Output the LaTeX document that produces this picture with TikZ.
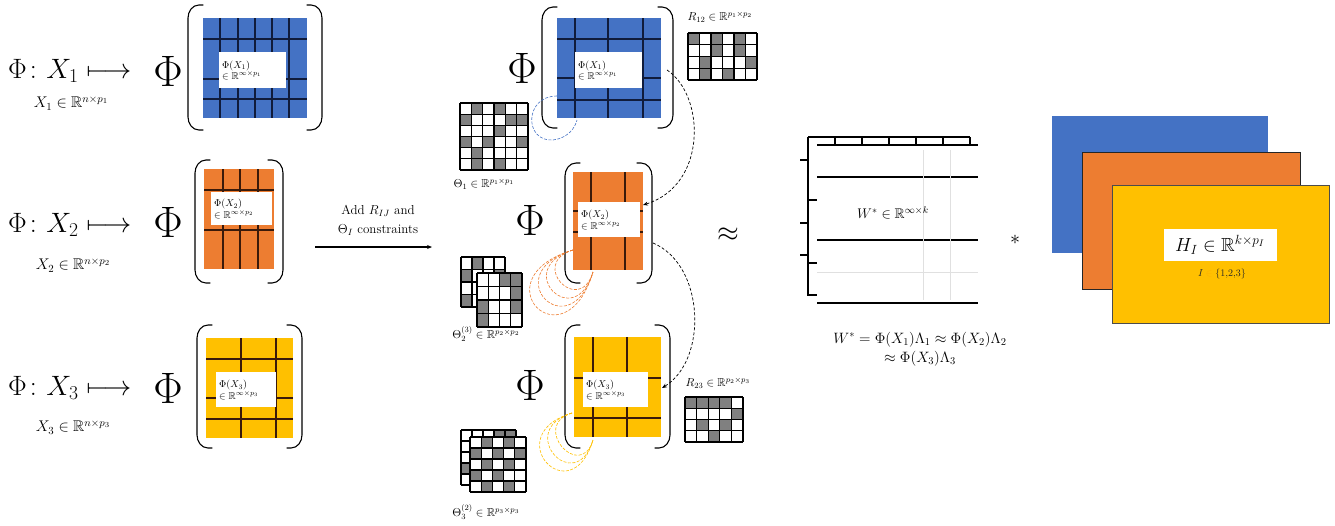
\RequirePackage{fix-cm}
\documentclass[tikz,border=0pt]{standalone}
\usepackage{amsmath,amssymb}
\usetikzlibrary{arrows.meta,calc}
\definecolor{cblue}{HTML}{4472C4}
\definecolor{corange}{HTML}{ED7D31}
\definecolor{cyellow}{HTML}{FFC000}
\definecolor{cgray}{HTML}{808080}
\definecolor{navy}{HTML}{101C3C}
\definecolor{dbrown}{HTML}{3A1A0A}
\tikzset{
  brk/.style={line width=1.1pt, black, line cap=round},
  gb/.style={line width=1.3pt, navy},
  gbr/.style={line width=1.3pt, dbrown},
  cellgl/.style={line width=1.1pt, black},
  mat/.style={anchor=north west, inner sep=0pt, draw=none},
  wb/.style={anchor=north west, inner sep=0pt, fill=white, draw=none},
  intxt/.style={anchor=west, align=left, font=\fontsize{10}{11.5}\selectfont, inner sep=0pt},
  rowtxt/.style={anchor=west, inner sep=0pt, font=\fontsize{28}{30}\selectfont},
  subtxt/.style={inner sep=0pt, font=\fontsize{15.5}{17}\selectfont},
  bigphi/.style={inner sep=0pt, font=\fontsize{44}{48}\selectfont},
  lab/.style={inner sep=0pt, font=\fontsize{11.5}{13}\selectfont},
  dasharrow/.style={dashed, dash pattern=on 3pt off 2pt, line width=0.7pt, -{Stealth[length=5pt,width=4pt]}},
  loop/.style={dash pattern=on 3pt off 1.5pt, line width=0.6pt},
}
\newcommand{\mybrk}[4]{%
  \draw[brk] ({#1+15},#2) -- ({#1+11},#2) to[out=180,in=90] (#1,{#2+13}) -- (#1,{#4-13}) to[out=-90,in=180] ({#1+11},#4) -- ({#1+15},#4);
  \draw[brk] ({#3-15},#2) -- ({#3-11},#2) to[out=0,in=90] (#3,{#2+13}) -- (#3,{#4-13}) to[out=-90,in=0] ({#3-11},#4) -- ({#3-15},#4);
}
\newcommand{\cmat}[7]{%
  \fill[white] (#1,#2) rectangle ++({#3*#5},{#4*#6});
  \foreach \cc/\rr in {#7}{\fill[cgray] ({#1+\cc*#5},{#2+\rr*#6}) rectangle ++(#5,#6);}
  \foreach \ii in {0,...,#3}{\draw[cellgl] ({#1+\ii*#5},#2) -- ++(0,{#4*#6});}
  \foreach \jj in {0,...,#4}{\draw[cellgl] (#1,{#2+\jj*#6}) -- ++({#3*#5},0);}
}
\begin{document}
\begin{tikzpicture}[x=1pt,y=-1pt]
\useasboundingbox (0,0) rectangle (1335,525);

% ---------------- left column ----------------
\node[rowtxt] (t1) at (8,71) {$\Phi\colon X_1 \longmapsto$};
\node[subtxt] (s1) at (71,103) {$X_1\in\mathbb{R}^{n\times p_1}$};
\node[bigphi] (P1) at (168,71) {$\Phi$};

\node[rowtxt] (t2) at (8,225) {$\Phi\colon X_2 \longmapsto$};
\node[subtxt] (s2) at (73,265) {$X_2\in\mathbb{R}^{n\times p_2}$};
\node[bigphi] (P2) at (168,222) {$\Phi$};

\node[rowtxt] (t3) at (8,388) {$\Phi\colon X_3 \longmapsto$};
\node[subtxt] (s3) at (73,427) {$X_3\in\mathbb{R}^{n\times p_3}$};
\node[bigphi] (P3) at (168,388) {$\Phi$};

% L1 blue
\node[mat, fill=cblue, minimum width=104pt, minimum height=100pt] (L1) at (203,18) {};
\foreach \x in {220,238,255,272,289} \draw[gb] (\x,18) -- (\x,118);
\foreach \y in {39,79,99} \draw[gb] (203,\y) -- (307,\y);
\node[wb, minimum width=67pt, minimum height=36pt] (L1w) at (219,52) {};
\node[intxt] at ($(L1w.west)+(3,0)$) {$\Phi(X_1)$\\$\in\mathbb{R}^{\infty\times p_1}$};
\mybrk{188}{5}{322}{130}

% L2 orange
\node[mat, fill=corange, minimum width=70pt, minimum height=100pt] (L2) at (204,169) {};
\foreach \x in {223,240,258} \draw[gbr] (\x,169) -- (\x,269);
\foreach \y in {190,230} \draw[gbr] (204,\y) -- (274,\y);
\node[wb, minimum width=61pt, minimum height=33pt] (L2w) at (211,192) {};
\node[intxt] at ($(L2w.west)+(3,0)$) {$\Phi(X_2)$\\$\in\mathbb{R}^{\infty\times p_2}$};
\mybrk{195}{160}{283}{283}

% L3 yellow
\node[mat, fill=cyellow, minimum width=87pt, minimum height=100pt] (L3) at (206,338) {};
\foreach \x in {241,276} \draw[gbr] (\x,338) -- (\x,438);
\foreach \y in {359,398,419} \draw[gbr] (206,\y) -- (293,\y);
\node[wb, minimum width=60pt, minimum height=35pt] (L3w) at (216,372) {};
\node[intxt] at ($(L3w.west)+(3,0)$) {$\Phi(X_3)$\\$\in\mathbb{R}^{\infty\times p_3}$};
\mybrk{197}{325}{302}{448}

% arrow with constraints
\coordinate (a0) at (315,247);
\coordinate (a1) at (432,247);
\draw[line width=1.2pt, -{Stealth[length=5pt,width=4pt]}] (a0) -- (a1);
\node[align=center, inner sep=0pt, font=\fontsize{13}{19}\selectfont] (addtxt) at (378,220) {Add $R_{IJ}$ and\\$\Theta_I$ constraints};

% ---------------- middle column ----------------
\node[bigphi] (Q1) at (522,68) {$\Phi$};
\node[bigphi] (Q2) at (530,220) {$\Phi$};
\node[bigphi] (Q3) at (530,385) {$\Phi$};

% M1 blue
\node[mat, fill=cblue, minimum width=104pt, minimum height=100pt] (M1) at (557,18) {};
\foreach \x in {575,608,643} \draw[gb] (\x,18) -- (\x,118);
\foreach \y in {39,78,100} \draw[gb] (557,\y) -- (661,\y);
\node[wb, minimum width=67pt, minimum height=36pt] (M1w) at (575,52) {};
\node[intxt] at ($(M1w.west)+(3,0)$) {$\Phi(X_1)$\\$\in\mathbb{R}^{\infty\times p_1}$};
\mybrk{542}{7}{673}{128}

% M2 orange
\node[mat, fill=corange, minimum width=70pt, minimum height=98pt] (M2) at (573,172) {};
\foreach \x in {591,625} \draw[gbr] (\x,172) -- (\x,270);
\foreach \y in {211,232} \draw[gbr] (573,\y) -- (643,\y);
\node[wb, minimum width=62pt, minimum height=35pt] (M2w) at (578,202) {};
\node[intxt] at ($(M2w.west)+(3,0)$) {$\Phi(X_2)$\\$\in\mathbb{R}^{\infty\times p_2}$};
\mybrk{565}{163}{652}{283}

% M3 yellow
\node[mat, fill=cyellow, minimum width=87pt, minimum height=100pt] (M3) at (574,337) {};
\foreach \x in {593,627} \draw[gbr] (\x,337) -- (\x,437);
\foreach \y in {378,418} \draw[gbr] (574,\y) -- (661,\y);
\node[wb, minimum width=65pt, minimum height=35pt] (M3w) at (583,372) {};
\node[intxt] at ($(M3w.west)+(3,0)$) {$\Phi(X_3)$\\$\in\mathbb{R}^{\infty\times p_3}$};
\mybrk{565}{325}{670}{448}

% Theta and R matrices
\cmat{460}{103}{6}{6}{11.33}{11.17}{1/0,3/0,0/1,4/1,5/1,3/2,0/3,2/3,5/3,1/4,1/5,3/5}
\node[lab] (th1) at (484,184) {$\Theta_1\in\mathbb{R}^{p_1\times p_1}$};

\cmat{461}{257}{4}{4}{11}{12.5}{1/0,0/1,3/1,0/3}
\cmat{477}{273}{4}{4}{11.25}{13.5}{2/0,3/0,3/1,0/2,3/2,0/3}
\node[lab] (th2) at (486,334) {$\Theta_2^{(3)}\in\mathbb{R}^{p_2\times p_2}$};

\cmat{461}{430}{5}{5}{11}{11}{3/0,4/0,0/3}
\cmat{470}{437}{5}{5}{11.2}{11}{1/0,3/0,0/1,2/1,4/1,1/2,3/2,0/3,2/3,1/4,3/4}
\node[lab] (th3) at (486,512) {$\Theta_3^{(2)}\in\mathbb{R}^{p_3\times p_3}$};

\cmat{688}{33}{6}{4}{11.5}{11.75}{0/0,2/0,2/1,4/0,4/1,1/2,1/3,5/2,3/3}
\node[lab] (r12) at (720,17) {$R_{12}\in\mathbb{R}^{p_1\times p_2}$};

\cmat{685}{397}{5}{4}{11.6}{11.25}{0/0,1/0,2/0,3/0,4/1,1/2,3/2,2/3}
\node[lab] (r23) at (718,383) {$R_{23}\in\mathbb{R}^{p_2\times p_3}$};

% dashed connectors between matrices
\coordinate (m1o) at (667,70);
\coordinate (m2i) at (643,205);
\coordinate (m2o) at (653,243);
\coordinate (m3i) at (662,388);
\draw[dasharrow] (m1o) .. controls (705,95) and (708,185) .. (m2i);
\draw[dasharrow] (m2o) .. controls (705,265) and (708,360) .. (m3i);

% self loops
\coordinate (b1a) at (557,96);
\coordinate (b1m) at (553,140);
\coordinate (b1b) at (577,120);
\draw[loop, cblue] (b1a) .. controls (524,96) and (524,142) .. (b1m) .. controls (568,138) and (575,128) .. (b1b);

\coordinate (oa) at (573,250);
\coordinate (ob) at (593,272);
\foreach \d in {45,62,78,95}
  \draw[loop, corange] (oa) .. controls ($(oa)+(-\d,0.3*\d)$) and ($(ob)+(-0.3*\d,\d)$) .. (ob);

\coordinate (ya) at (572,413);
\coordinate (yb) at (593,440);
\foreach \d in {42,58,74}
  \draw[loop, cyellow] (ya) .. controls ($(ya)+(-\d,0.3*\d)$) and ($(yb)+(-0.3*\d,\d)$) .. (yb);

% approx
\node[inner sep=0pt, font=\fontsize{28}{30}\selectfont] (approx) at (728,235) {$\approx$};

% ---------------- W* matrix ----------------
\begin{scope}[line width=1.2pt]
\draw (808,137) -- (970,137);
\foreach \x in {835,862,889,916,943,970} \draw (\x,137) -- (\x,145);
\draw (817,145) -- (978,145);
\draw (808,137) -- (808,295) -- (817,295);
\draw (800,160) -- (808,160);
\draw (808,200) -- (817,200);
\draw (800,223) -- (808,223);
\draw (800,255) -- (808,255);
\draw (808,263) -- (817,263);
\draw (817,177) -- (978,177);
\draw (817,240) -- (978,240);
\draw (817,303) -- (978,303);
\end{scope}
\draw[black!12, line width=0.8pt] (817,272) -- (978,272);
\draw[black!12, line width=0.8pt] (923,150) -- (923,300);
\draw[black!12, line width=0.8pt] (950,150) -- (950,300);
\node[inner sep=1pt, font=\fontsize{14}{16}\selectfont] (W) at (893,213) {$W^{*}\in\mathbb{R}^{\infty\times k}$};

\node[inner sep=0pt, font=\fontsize{15}{19}\selectfont, align=center] (eq) at (920,349) {$W^{*}=\Phi(X_1)\Lambda_1\approx\Phi(X_2)\Lambda_2$\\$\approx\Phi(X_3)\Lambda_3$};

\node[inner sep=0pt, font=\fontsize{20}{22}\selectfont] (star) at (1015,240) {$*$};

% ---------------- H stack ----------------
\node[mat, fill=cblue, minimum width=216pt, minimum height=137pt] (Hb) at (1052,116) {};
\node[mat, fill=corange, draw=black!85, line width=0.9pt, minimum width=218pt, minimum height=137pt] (Ho) at (1082,152) {};
\node[mat, fill=cyellow, draw=black!70, line width=0.9pt, minimum width=217pt, minimum height=138pt] (Hy) at (1112,185) {};
\node[fill=white, inner sep=0pt, minimum width=113pt, minimum height=32pt, font=\fontsize{19}{21}\selectfont] (Hw) at (1220,245) {$H_I\in\mathbb{R}^{k\times p_I}$};
\node[inner sep=0pt, font=\fontsize{10}{11}\selectfont, text=black!85] (Hs) at (1222,274) {$I\;\textcolor{cyellow!70!orange}{\in}\;\{1{,}2{,}3\}$};

\end{tikzpicture}
\end{document}
